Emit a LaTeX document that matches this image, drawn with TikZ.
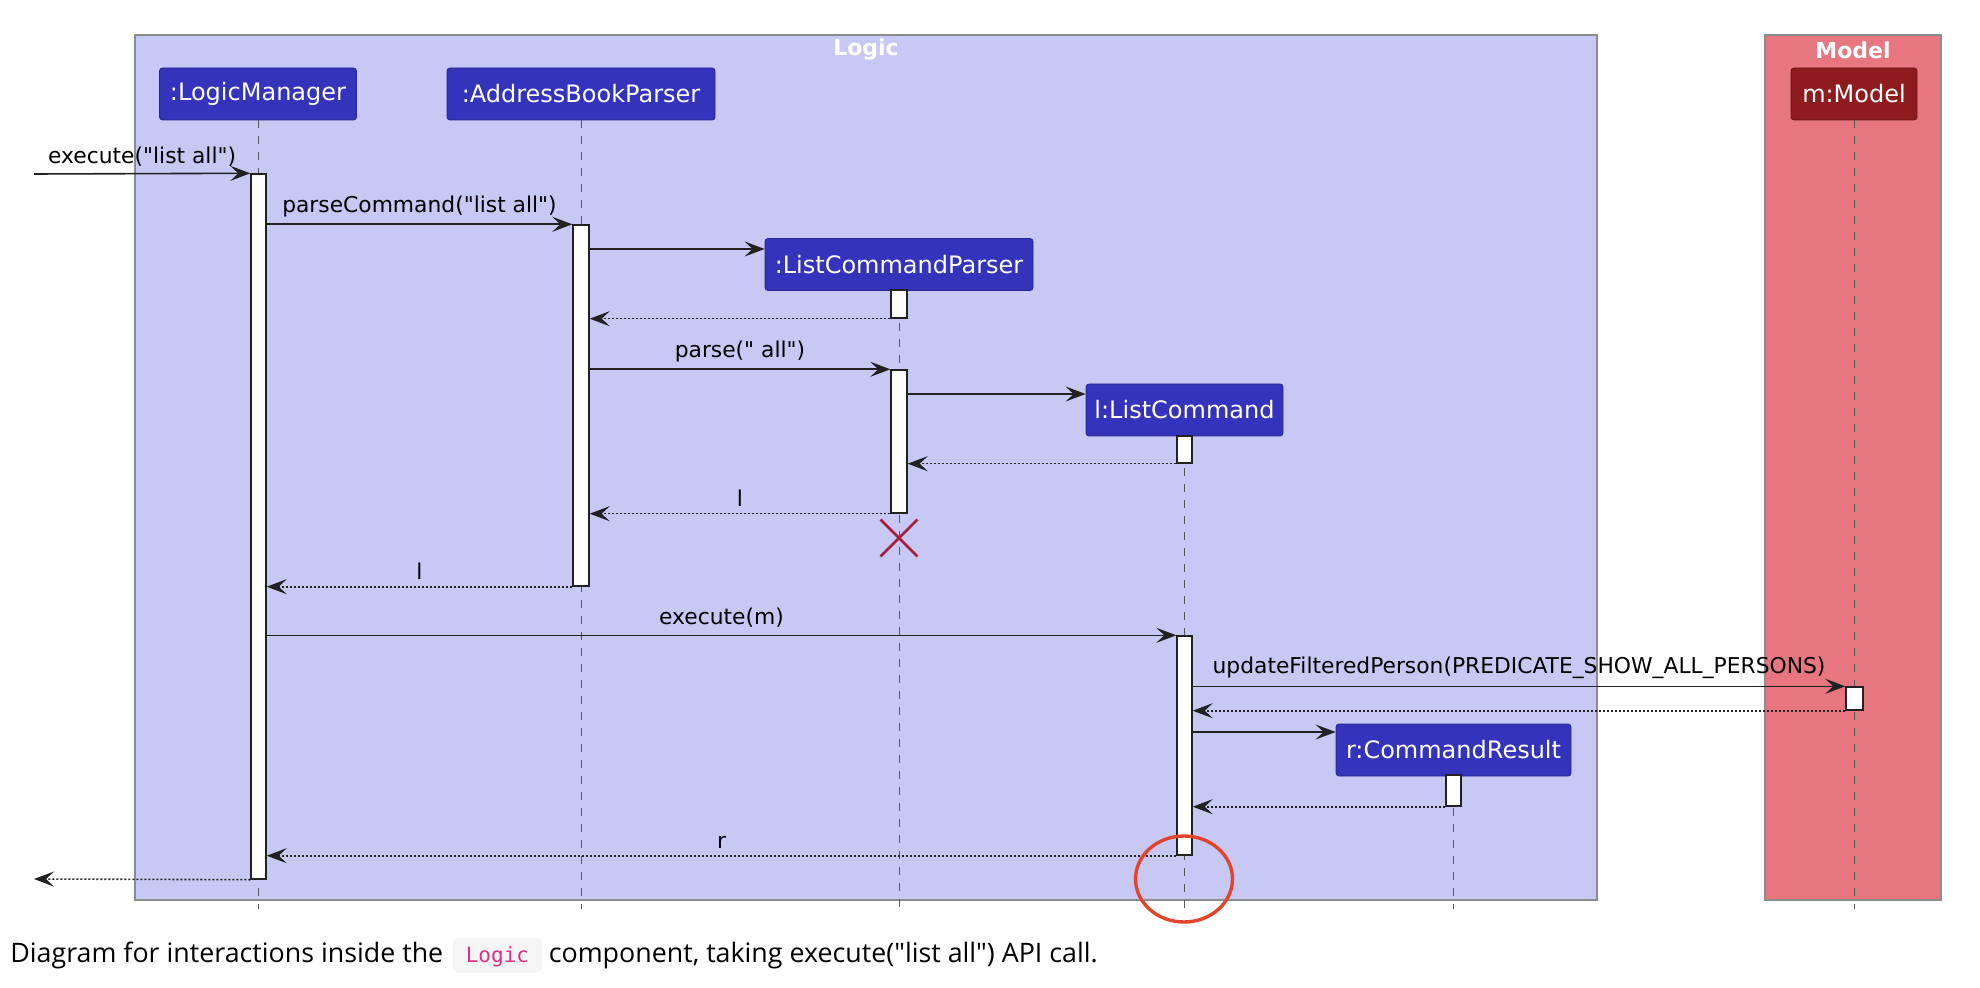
\documentclass[tikz,border=0pt]{standalone}
\usepackage{fontspec}
\newfontfamily\seqfont{DejaVu Sans}
\newfontfamily\capfont{Open Sans}
\newfontfamily\codefont{DejaVu Sans Mono}
\usepackage{tikz}
\usetikzlibrary{positioning,arrows.meta,fit,shapes.geometric,shapes.misc}
\definecolor{lavanda}{RGB}{200,200,245}
\definecolor{rosa}{RGB}{232,118,128}
\definecolor{azul}{RGB}{51,51,187}
\definecolor{granate}{RGB}{142,27,30}
\definecolor{gris55}{gray}{.55}
\definecolor{gris35}{gray}{.35}
\definecolor{gris15}{gray}{.13}
\definecolor{gris96}{gray}{.96}
\definecolor{carmin}{RGB}{165,30,60}
\definecolor{marca}{RGB}{230,67,43}
\definecolor{rosacod}{RGB}{214,51,132}

\begin{document}
\begin{tikzpicture}[
    x=0.5pt, y=-0.5pt,
    font=\seqfont\fontsize{10.9}{13}\selectfont,
    grp/.style={rectangle, draw=gris55, line width=0.6pt, inner sep=0pt},
    grptitle/.style={text=white, font=\seqfont\fontsize{11}{13}\selectfont\bfseries},
    head/.style={rectangle, rounded corners=1.5pt, fill=azul, draw=azul!75!black,
      text=white, font=\seqfont\fontsize{12}{14}\selectfont, minimum height=26pt, inner sep=0pt},
    life/.style={draw=gris35, dash pattern=on 4pt off 4pt, line width=0.5pt},
    act/.style={rectangle, draw=gris15, fill=white, line width=0.7pt, inner sep=0pt},
    call/.style={-{Stealth[length=10pt,width=7.5pt,inset=4pt]}, draw=gris15, line width=0.8pt},
    ret/.style={-{Stealth[length=10pt,width=7.5pt,inset=4pt]}, draw=gris15, line width=0.8pt,
      dash pattern=on 1pt off 1pt},
    lbl/.style={midway, above, text=black},
    captxt/.style={inner sep=0pt, text height=10pt, text depth=3pt,
      font=\capfont\fontsize{13.4}{16}\selectfont},
    codetxt/.style={rectangle, rounded corners=3pt, fill=gris96, text=rosacod,
      inner xsep=6.5pt, inner ysep=2.25pt, text height=10pt, text depth=3pt,
      font=\codefont\fontsize{10.5}{13}\selectfont}
  ]
    \useasboundingbox[fill=white] (0,0) rectangle (1980,988);

    \node[grp, fill=lavanda, fit={(135,35) (1597,900)}] (logic) {};
    \node[grp, fill=rosa, fit={(1765,35) (1941,900)}] (model) {};
    \node[grptitle] (logicT) at (866,50) {Logic};
    \node[grptitle] (modelT) at (1853,50) {Model};

    \node[head, minimum width=98.5pt] (lm) at (258,94) {:LogicManager};
    \node[head, minimum width=134pt] (abp) at (581,94) {:AddressBookParser};
    \node[head, minimum width=134pt] (lcp) at (899,264.5) {:ListCommandParser};
    \node[head, minimum width=98.5pt] (lc) at (1184.5,410) {l:ListCommand};
    \node[head, minimum width=117.5pt] (cr) at (1453.5,750) {r:CommandResult};
    \node[head, minimum width=63pt, fill=granate, draw=granate!75!black] (mm) at (1854,94) {m:Model};

    \foreach \p in {lm,abp,lcp,lc,cr,mm}
      \draw[life] (\p.south) -- (\p.south |- 0,909);

    \node[act, fit={(251,174) (266,879)}] (lmA) {};
    \node[act, fit={(573,225) (589,586)}] (abpA) {};
    \node[act, fit={(891,290) (907,318)}] (lcpA) {};
    \node[act, fit={(891,370) (907,513)}] (lcpB) {};
    \node[act, fit={(1177,436) (1192,463)}] (lcA) {};
    \node[act, fit={(1177,636) (1192,855)}] (lcB) {};
    \node[act, fit={(1446,775) (1461,806)}] (crA) {};
    \node[act, fit={(1846,687) (1863,710)}] (mmA) {};

    \coordinate (inL) at (34,174);
    \coordinate (outL) at (34,879);

    \draw[call] (inL) -- (lmA.north west) node[lbl] {execute("list all")};
    \draw[call] (lmA.east |- abpA.north) -- (abpA.north west) node[lbl] {parseCommand("list all")};
    \draw[call] (abpA.east |- 0,249) -- (lcp.west |- 0,249);
    \draw[ret] (lcpA.south west) -- (abpA.east |- lcpA.south);
    \draw[call] (abpA.east |- lcpB.north) -- (lcpB.north west) node[lbl] {parse(" all")};
    \draw[call] (lcpB.east |- 0,394) -- (lc.west |- 0,394);
    \draw[ret] (lcA.south west) -- (lcpB.east |- lcA.south);
    \draw[ret] (lcpB.south west) -- (abpA.east |- lcpB.south) node[lbl] {l};
    \node[cross out, draw=carmin, line width=1.4pt, minimum size=17pt, inner sep=0pt] (lcpX) at (899,538) {};
    \draw[ret] (abpA.south west) -- (lmA.east |- abpA.south) node[lbl] {l};
    \draw[call] (lmA.east |- lcB.north) -- (lcB.north west) node[lbl] {execute(m)};
    \draw[call] (lcB.east |- mmA.north) -- (mmA.north west) node[lbl] {updateFilteredPerson(PREDICATE\_SHOW\_ALL\_PERSONS)};
    \draw[ret] (mmA.south west) -- (lcB.east |- mmA.south);
    \draw[call] (lcB.east |- 0,732) -- (cr.west |- 0,732);
    \draw[ret] (crA.south west) -- (lcB.east |- crA.south);
    \draw[ret] (lcB.south west) -- (lmA.east |- lcB.south) node[lbl] {r};
    \draw[ret] (lmA.south west) -- (outL);

    \node[ellipse, draw=marca, line width=1.7pt, minimum width=48.5pt, minimum height=43pt] (mark) at (1184,879) {};

    \node[captxt, anchor=west] (capA) at (10,955) {Diagram for interactions inside the};
    \node[codetxt, right=4.4pt of capA] (capB) {Logic};
    \node[captxt, right=3pt of capB] (capC) {component, taking execute("list all") API call.};
  \end{tikzpicture}
\end{document}
